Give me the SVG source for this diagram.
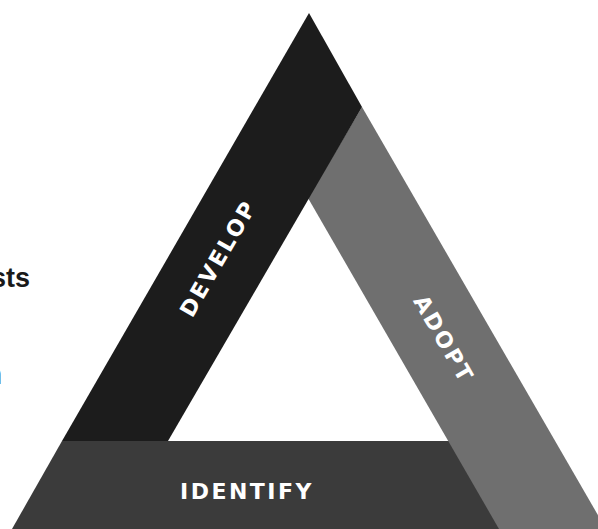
<svg xmlns="http://www.w3.org/2000/svg" width="598" height="529" viewBox="0 0 598 529">
<style>
.lbl{font-family:"DejaVu Sans","Liberation Sans",Arial,sans-serif;font-weight:bold;font-size:22px;fill:#ffffff;text-anchor:middle;letter-spacing:2.5px}
.side{font-family:"Liberation Sans",Arial,sans-serif;font-size:27px;fill:#1a1a1a}
</style>
<rect width="598" height="529" fill="#ffffff"/>
<g id="side-text">
<text class="side" x="-9" y="287" font-weight="bold">sts</text>
<text class="side" x="-13" y="384" fill="#444444">n</text>
</g>
<g id="identify">
<polygon points="62,441 470,441 520,529 12,529" fill="#3b3b3b"/>
<text class="lbl" x="247" y="499">IDENTIFY</text>
</g>
<g id="adopt">
<polygon points="362,107 606,529 499,529 308,198" fill="#6f6f6f"/>
<text class="lbl" transform="translate(444,339) rotate(60)" x="0" y="8">ADOPT</text>
</g>
<g id="develop">
<polygon points="309,13 362,107 168,441 62,441" fill="#1c1c1c"/>
<text class="lbl" transform="translate(218,258) rotate(-60)" x="0" y="8">DEVELOP</text>
</g>
<g id="connectors"></g>
</svg>
